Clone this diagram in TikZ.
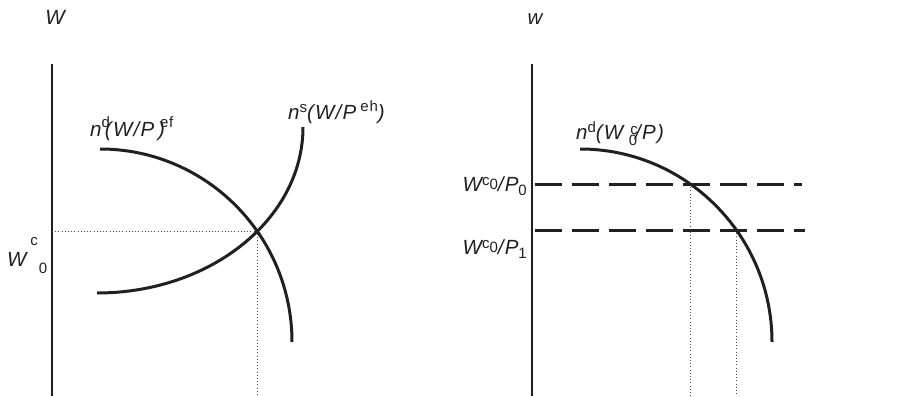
\documentclass[tikz,border=0pt]{standalone}
\usepackage{fontspec}
\setmainfont{Liberation Sans}[LetterSpace=6]
\usetikzlibrary{intersections}
\definecolor{ink}{RGB}{35,31,32}
\tikzset{
  axis/.style={draw=ink, line width=1.2pt},
  curve/.style={draw=ink, line width=3pt},
  guide/.style={draw=ink!80, line width=0.9pt, dash pattern=on 1pt off 2.2pt},
  level/.style={draw=ink, line width=3pt, dash pattern=on 27pt off 10pt},
  lbl/.style={inner sep=0pt, text=ink, font=\fontsize{20.5}{24}\selectfont},
  small/.style={inner sep=0pt, text=ink, font=\fontsize{15}{18}\selectfont},
}
% raised upright index: #1 = shift in pt, #2 = text
\newcommand{\idx}[2]{\raisebox{#1pt}{\upshape\fontsize{15}{18}\selectfont #2}}
\begin{document}
\begin{tikzpicture}[x=1pt, y=-1pt]
  \useasboundingbox (0,0) rectangle (901,396);

  % ---------- left panel: labour market ----------
  \coordinate (lTop) at (52,64);
  \coordinate (lBot) at (52,396);
  \draw[axis] (lTop) -- (lBot);
  \node[lbl, anchor=base] (lW) at (55,25) {\itshape W};

  \coordinate (dA) at (100,149);
  \coordinate (dB) at (292,342);
  \path[name path=demand] (dA) .. controls (206,149) and (292,235.4) .. (dB);

  \coordinate (sA) at (97,293);
  \coordinate (sB) at (303,127);
  \path[name path=supply] (sA) .. controls (210.8,293) and (303,218.7) .. (sB);

  \path[name intersections={of=demand and supply, by=eq}];
  \coordinate (eqAxis) at (lTop |- eq);
  \coordinate (eqBase) at (eq |- lBot);
  \draw[guide] (eqAxis) -- (eq) -- (eqBase);

  \node[lbl, anchor=base west] (ndL) at (90,136)
    {\itshape n\idx{9}{d}\hspace{-5pt}(W/P\hspace{4pt})\hspace{-5pt}\idx{9}{ef}};
  \node[lbl, anchor=base west] (nsL) at (288,119)
    {\itshape n\idx{7}{s}(W/P\hspace{4pt}\idx{8}{eh})};

  \node[lbl, anchor=base west] (wc) at (7,266) {\itshape W};
  \node[small, anchor=center] (wcSup) at (34,242) {c};
  \node[small, anchor=center] (wcSub) at (43,268) {0};

  % ---------- right panel: fixed nominal wage ----------
  \coordinate (rTop) at (532,64);
  \coordinate (rBot) at (532,396);
  \draw[axis] (rTop) -- (rBot);
  \node[lbl, anchor=base] (rw) at (535,25) {\itshape w};

  \coordinate (rA) at (580,149);
  \coordinate (rB) at (772,342);
  \path[name path=rdemand] (rA) .. controls (686,149) and (772,235.4) .. (rB);

  \coordinate (h0a) at (535,184);
  \coordinate (h0b) at (802,184);
  \coordinate (h1a) at (535,230);
  \coordinate (h1b) at (805,230);
  \path[name path=lev0] (h0a) -- (h0b);
  \path[name path=lev1] (h1a) -- (h1b);
  \path[name intersections={of=rdemand and lev0, by=x0}];
  \path[name intersections={of=rdemand and lev1, by=x1}];
  \coordinate (x0Base) at (x0 |- rBot);
  \coordinate (x1Base) at (x1 |- rBot);
  \draw[guide] (x0) -- (x0Base);
  \draw[guide] (x1) -- (x1Base);

  \draw[level] (h0a) -- (h0b);
  \draw[level] (h1a) -- (h1b);

  \node[lbl, anchor=base west] (ndR) at (576,139)
    {\itshape n\idx{7}{d}(W\hspace{7pt}\idx{5}{c}\hspace{-9pt}\idx{-6}{0}\hspace{-2pt}/P)};
  \node[lbl, anchor=base east] (p0) at (527,191)
    {\itshape W\idx{6}{c}\idx{2}{0}/P\idx{-4}{0}};
  \node[lbl, anchor=base east] (p1) at (527,254)
    {\itshape W\idx{6}{c}\idx{2}{0}/P\idx{-4}{1}};

  % curves drawn last so they sit on top of the guides
  \draw[curve] (dA) .. controls (206,149) and (292,235.4) .. (dB);
  \draw[curve] (sA) .. controls (210.8,293) and (303,218.7) .. (sB);
  \draw[curve] (rA) .. controls (686,149) and (772,235.4) .. (rB);
\end{tikzpicture}
\end{document}
